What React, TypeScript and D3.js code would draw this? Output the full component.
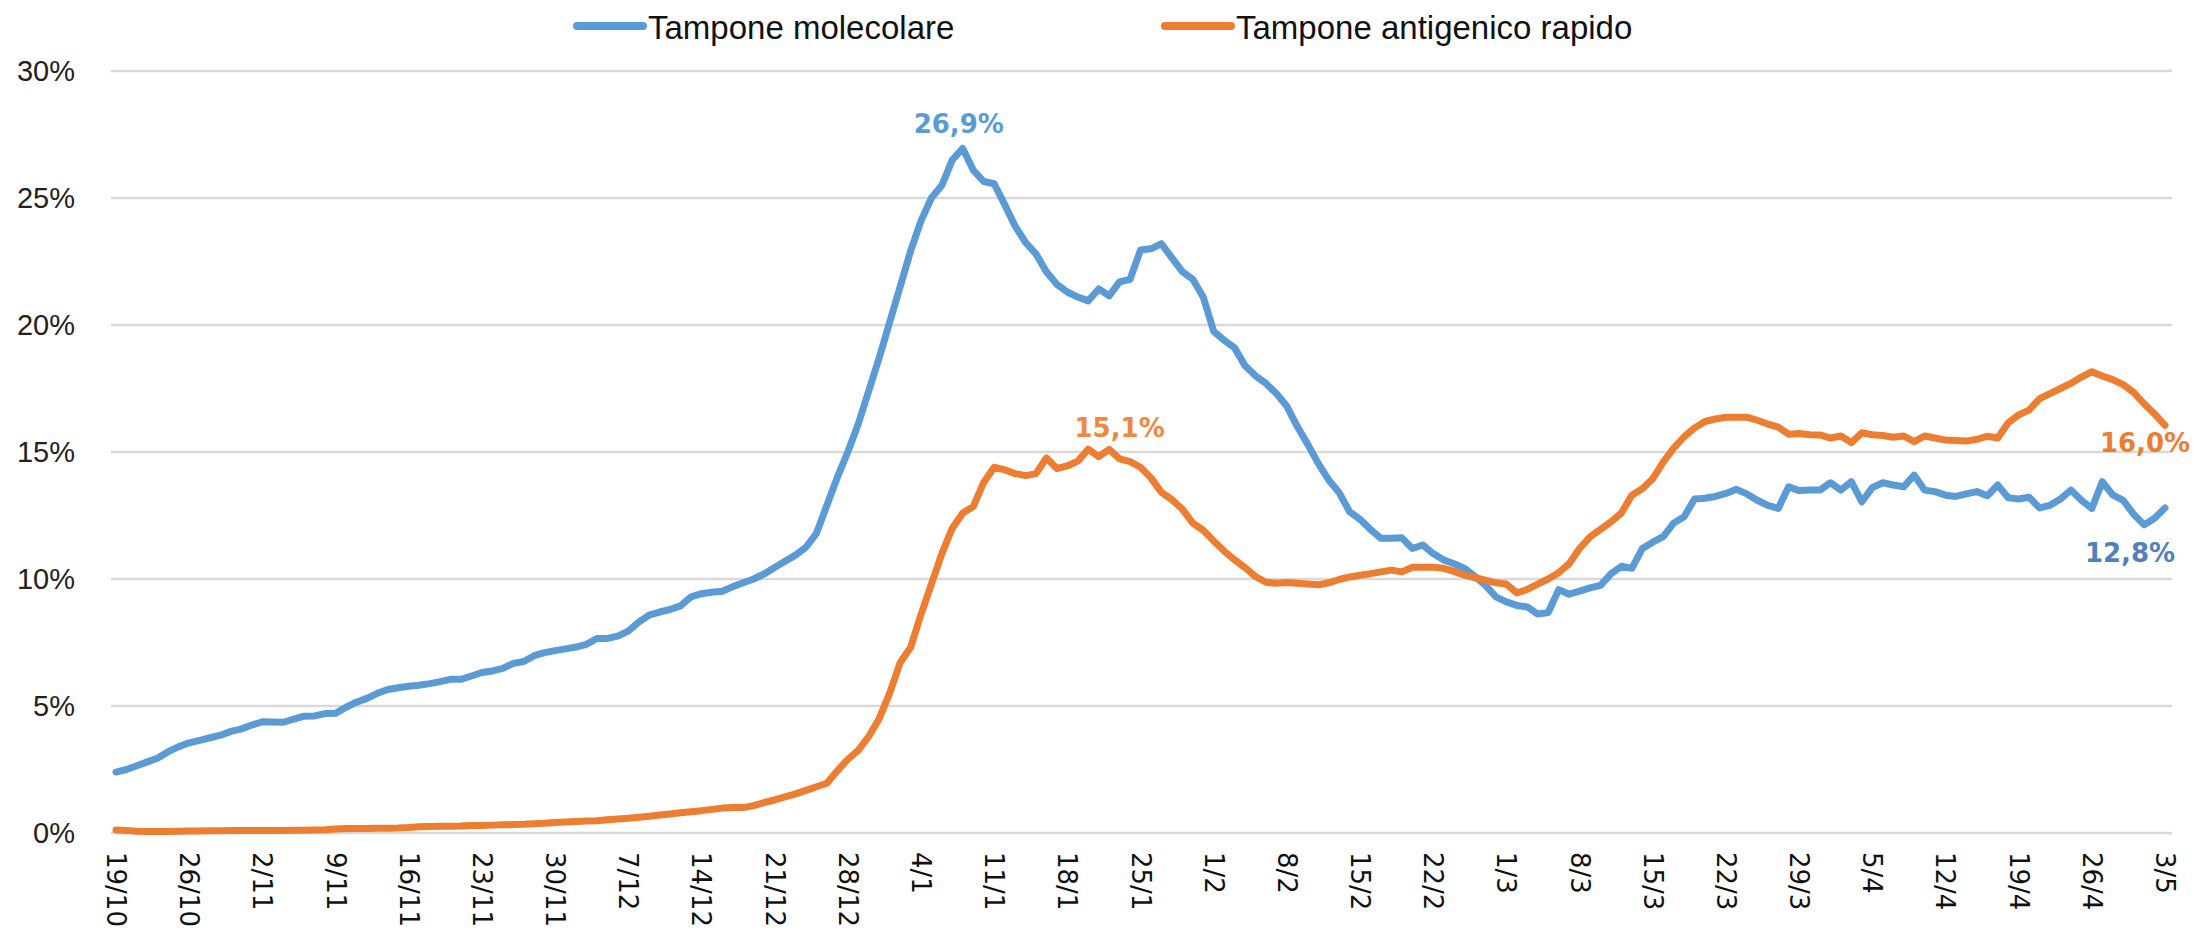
import React from "react";
import * as d3 from "d3";

const startDate = "2021-10-19";
const tickLabels = ["19/10","26/10","2/11","9/11","16/11","23/11","30/11","7/12","14/12","21/12","28/12","4/1","11/1","18/1","25/1","1/2","8/2","15/2","22/2","1/3","8/3","15/3","22/3","29/3","5/4","12/4","19/4","26/4","3/5"];
const yTicks = [0, 5, 10, 15, 20, 25, 30];
const seriesNames = ["Tampone molecolare", "Tampone antigenico rapido"];
const seriesColors = ["#5B9BD5", "#ED7D31"];

// daily values (%) from 19/10 to 3/5
const molecolare = [
  2.4,2.5,2.65,2.8,2.95,3.2,3.4,3.55,3.65,3.75,3.85,4.0,4.1,4.25,4.38,4.37,4.36,4.48,4.6,4.61,
  4.7,4.71,4.95,5.15,5.3,5.5,5.65,5.72,5.78,5.82,5.88,5.96,6.05,6.05,6.18,6.32,6.38,6.48,6.68,6.75,
  6.98,7.1,7.18,7.25,7.32,7.43,7.66,7.66,7.75,7.95,8.3,8.58,8.7,8.8,8.94,9.3,9.42,9.48,9.52,9.7,
  9.85,10.0,10.2,10.45,10.7,10.94,11.25,11.8,12.9,14.0,15.0,16.1,17.4,18.7,20.1,21.5,22.9,24.1,25.0,25.5,
  26.5,26.95,26.1,25.65,25.56,24.75,23.9,23.25,22.8,22.1,21.6,21.3,21.1,20.95,21.42,21.15,21.7,21.8,22.95,23.0,
  23.2,22.64,22.1,21.8,21.1,19.75,19.4,19.1,18.4,18.0,17.7,17.3,16.8,16.0,15.3,14.55,13.9,13.4,12.65,12.35,
  11.95,11.6,11.6,11.62,11.2,11.34,11.0,10.75,10.6,10.42,10.1,9.75,9.3,9.1,8.96,8.9,8.62,8.68,9.58,9.4,
  9.52,9.65,9.75,10.2,10.5,10.42,11.2,11.45,11.67,12.2,12.45,13.15,13.18,13.25,13.37,13.53,13.35,13.1,12.9,12.78,
  13.63,13.48,13.5,13.5,13.79,13.5,13.83,13.04,13.6,13.79,13.7,13.63,14.09,13.5,13.44,13.3,13.25,13.35,13.44,13.28,
  13.7,13.2,13.15,13.22,12.8,12.9,13.15,13.5,13.1,12.78,13.83,13.31,13.1,12.55,12.13,12.39,12.8
];

const antigenico = [
  0.12,0.1,0.07,0.06,0.06,0.06,0.07,0.08,0.08,0.09,0.09,0.1,0.1,0.1,0.1,0.1,0.1,0.11,0.11,0.12,
  0.13,0.16,0.18,0.18,0.18,0.19,0.19,0.2,0.22,0.25,0.26,0.27,0.27,0.28,0.3,0.3,0.31,0.32,0.33,0.34,
  0.36,0.38,0.41,0.43,0.45,0.47,0.48,0.52,0.55,0.58,0.62,0.66,0.71,0.75,0.8,0.84,0.88,0.93,0.98,1.0,
  1.0,1.08,1.2,1.3,1.42,1.54,1.68,1.82,1.96,2.45,2.9,3.25,3.8,4.5,5.5,6.7,7.3,8.6,9.8,11.0,
  12.0,12.6,12.85,13.8,14.4,14.3,14.15,14.07,14.15,14.77,14.35,14.45,14.64,15.11,14.82,15.1,14.73,14.62,14.4,13.98,
  13.41,13.13,12.75,12.2,11.92,11.5,11.1,10.75,10.45,10.1,9.87,9.83,9.86,9.83,9.8,9.77,9.85,9.98,10.08,10.15,
  10.21,10.28,10.35,10.28,10.46,10.46,10.46,10.42,10.3,10.15,10.05,9.95,9.85,9.8,9.45,9.59,9.8,10.0,10.25,10.6,
  11.2,11.66,11.95,12.25,12.6,13.3,13.55,13.95,14.6,15.15,15.6,15.95,16.2,16.3,16.37,16.37,16.37,16.25,16.1,15.98,
  15.7,15.73,15.68,15.67,15.55,15.63,15.37,15.76,15.68,15.65,15.58,15.63,15.41,15.63,15.55,15.47,15.45,15.43,15.5,15.62,
  15.55,16.15,16.46,16.65,17.1,17.3,17.5,17.7,17.95,18.16,17.99,17.85,17.65,17.35,16.9,16.5,16.05
];

const annotations = [
  { text: "26,9%", series: 0, day: 81, dx: -4, y: 124, color: "#5B9BD5" },
  { text: "15,1%", series: 1, day: 96, dx: 0, y: 428, color: "#F0883E" },
  { text: "16,0%", series: 1, day: 196, dx: -20, y: 443, color: "#ED7D31" },
  { text: "12,8%", series: 0, day: 196, dx: -35, y: 553, color: "#4F81BD" },
];

export default function App() {
  const W = 2193, H = 944;
  const t0 = d3.timeParse("%Y-%m-%d")(startDate) as Date;
  const dates = molecolare.map((_, i) => d3.timeDay.offset(t0, i));
  const x = d3.scaleTime().domain([dates[0], dates[dates.length - 1]]).range([116, 2165]);
  const y = d3.scaleLinear().domain([0, 30]).range([833, 71]);
  const tickDates = tickLabels.map((_, i) => d3.timeDay.offset(t0, i * 7));
  const fmt = d3.timeFormat("%-d/%-m");

  const line = d3.line<number>()
    .x((_, i) => x(dates[i]))
    .y((v) => y(v))
    .curve(d3.curveLinear);

  const series = [molecolare, antigenico];

  return (
    <svg width={W} height={H} style={{ position: "absolute", left: 0, top: 0, background: "#fff" }}>
      {yTicks.map((t) => (
        <g key={t}>
          <line x1={111} x2={2172} y1={y(t)} y2={y(t)} stroke="#D9D9D9" strokeWidth={2.5} />
          <text x={75} y={y(t)} textAnchor="end" dominantBaseline="central"
            style={{ fontFamily: "'Liberation Sans', Arial, sans-serif", fontSize: 29, fill: "#222" }}>
            {t + "%"}
          </text>
        </g>
      ))}
      {tickDates.map((d, i) => (
        <text key={i} transform={`translate(${x(d)},${852}) rotate(90)`} textAnchor="start" dominantBaseline="central"
          style={{ fontFamily: "'DejaVu Sans', Verdana, sans-serif", fontSize: 26, fill: "#111" }}>
          {tickLabels[i] || fmt(d)}
        </text>
      ))}
      {series.map((s, i) => (
        <path key={i} d={line(s) || ""} fill="none" stroke={seriesColors[i]} strokeWidth={7}
          strokeLinejoin="round" strokeLinecap="round" />
      ))}
      {annotations.map((a, i) => (
        <text key={i} x={x(dates[a.day]) + a.dx} y={a.y} textAnchor="middle" dominantBaseline="central"
          style={{ fontFamily: "'DejaVu Sans', Verdana, sans-serif", fontWeight: 700, fontSize: 26, fill: a.color }}>
          {a.text}
        </text>
      ))}
      {/* legend */}
      {seriesNames.map((n, i) => {
        const lx = [577, 1165][i];
        return (
          <g key={n}>
            <line x1={lx} x2={lx + 66} y1={26} y2={26} stroke={seriesColors[i]} strokeWidth={8} strokeLinecap="round" />
            <text x={lx + 71} y={27} dominantBaseline="central"
              style={{ fontFamily: "'Liberation Sans', Arial, sans-serif", fontSize: 33, fill: "#111" }}>
              {n}
            </text>
          </g>
        );
      })}
    </svg>
  );
}
